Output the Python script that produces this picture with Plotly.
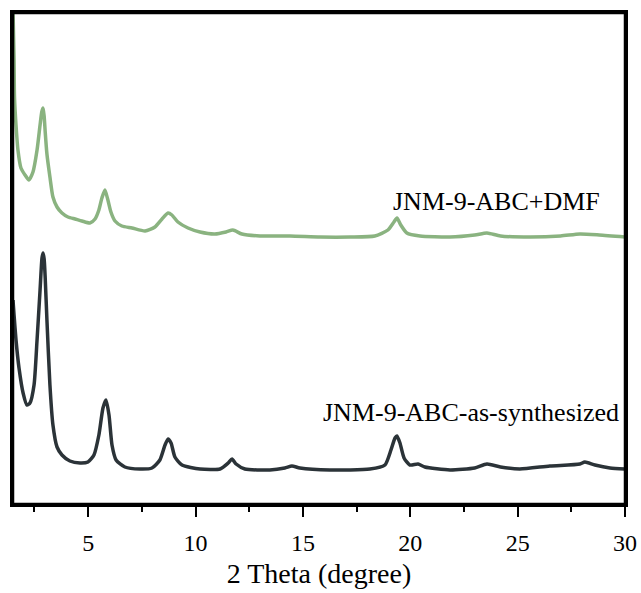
import plotly.graph_objects as go

# 2-theta (degree) and intensity (a.u.)
dmf_theta = [1.50, 1.55, 1.57, 1.64, 1.73, 1.87, 2.06, 2.24, 2.43, 2.62, 2.76, 2.84, 2.90, 2.95, 3.00, 3.08, 3.22,
             3.36, 3.55, 3.78, 4.06, 4.39, 4.71, 5.08, 5.32, 5.50, 5.64, 5.78, 5.92, 6.06, 6.25, 6.57,
             7.04, 7.65, 8.11, 8.44, 8.72, 8.90, 9.18, 9.65, 10.21, 10.90, 11.42, 11.74, 12.16, 13.0,
             14.4, 15.8, 17.2, 18.35, 18.96, 19.24, 19.38, 19.56, 19.84, 20.45, 21.85, 23.0, 23.57,
             24.2, 25.6, 27.0, 27.9, 28.8, 30.0]
dmf_int = [495, 444, 407, 379, 354, 336, 329, 324, 332, 354, 379, 392, 396, 388, 372, 350, 327,
           307, 297, 291, 287, 285, 283, 281, 285, 294, 306, 314, 304, 292, 283, 278,
           276, 273, 277, 285, 291, 289, 282, 276, 272, 270, 272, 274, 270, 268,
           268, 267, 267, 268, 274, 282, 286, 279, 271, 268, 267, 269, 271,
           268, 267, 268, 270, 269, 267]

syn_theta = [1.50, 1.55, 1.64, 1.78, 1.97, 2.15, 2.29, 2.48, 2.62, 2.76, 2.85, 2.90, 2.95, 3.00, 3.08, 3.22,
             3.36, 3.55, 3.78, 4.15, 4.62, 4.99, 5.27, 5.50, 5.69, 5.83, 5.97, 6.11, 6.30, 6.71,
             7.41, 7.97, 8.34, 8.58, 8.72, 8.86, 9.04, 9.37, 10.21, 11.14, 11.52, 11.70, 11.89,
             12.30, 13.46, 14.16, 14.49, 14.86, 16.26, 18.12, 18.82, 19.10, 19.29, 19.38, 19.52,
             19.71, 19.98, 20.36, 20.68, 21.85, 23.0, 23.57, 24.2, 25.1, 26.5, 27.9, 28.13, 28.6,
             29.3, 30.0]
syn_int = [204, 189, 164, 136, 111, 99, 101, 119, 164, 214, 246, 251, 245, 226, 184, 119,
           79, 57, 49, 43, 41, 42, 49, 69, 96, 104, 89, 59, 44, 37,
           35, 36, 44, 59, 65, 61, 47, 39, 35, 35, 41, 45, 40,
           35, 34, 36, 38, 36, 34, 35, 39, 54, 66, 68, 61,
           46, 39, 40, 37, 34, 36, 40, 37, 35, 38, 40, 42, 39,
           36, 35]

labels = ["JNM-9-ABC+DMF", "JNM-9-ABC-as-synthesized"]
label_pos = [(24.03, 303), (22.82, 92)]

font = "Liberation Serif, Times New Roman, serif"

fig = go.Figure()
fig.add_trace(go.Scatter(x=dmf_theta, y=dmf_int, mode="lines",
                         line=dict(color="#8ab380", width=3.5, shape="spline", smoothing=0.6),
                         showlegend=False))
fig.add_trace(go.Scatter(x=syn_theta, y=syn_int, mode="lines",
                         line=dict(color="#2b3338", width=3.5, shape="spline", smoothing=0.6),
                         showlegend=False))

for t, (x, y) in zip(labels, label_pos):
    fig.add_annotation(x=x, y=y, text=t, showarrow=False,
                       font=dict(family=font, size=26, color="black"))

fig.add_shape(type="rect", xref="paper", yref="paper", x0=0, x1=1, y0=0, y1=1,
              line=dict(color="black", width=2.5), layer="above")

fig.update_layout(
    width=641, height=593,
    margin=dict(l=13, r=16, t=13, b=89, autoexpand=False),
    paper_bgcolor="white", plot_bgcolor="white",
    font=dict(family=font, color="black"),
)
fig.update_xaxes(
    range=[1.5, 30], showgrid=False, zeroline=False, automargin=False,
    showline=True, linecolor="black", linewidth=2.5, mirror=True,
    ticks="outside", ticklen=10, tickwidth=2, tickcolor="black",
    tickvals=[5, 10, 15, 20, 25, 30], ticklabelstandoff=5,
    minor=dict(ticks="outside", ticklen=5, tickwidth=2, tickcolor="black",
               tickvals=[2.5, 7.5, 12.5, 17.5, 22.5, 27.5]),
    tickfont=dict(family=font, size=24),
    title=dict(text="2 Theta (degree)", font=dict(family=font, size=28), standoff=9),
)
fig.update_yaxes(
    range=[0, 491], showgrid=False, zeroline=False, showticklabels=False, automargin=False,
    showline=True, linecolor="black", linewidth=2.5, mirror=True, ticks="",
)

fig.write_html("out.html")
